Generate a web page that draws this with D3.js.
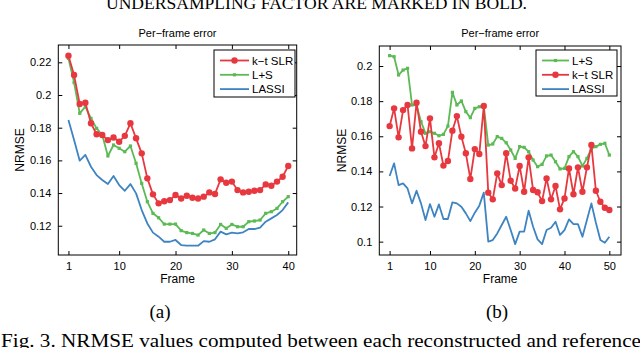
<!DOCTYPE html>
<html>
<head>
<meta charset="utf-8">
<script src="https://cdn.jsdelivr.net/npm/d3@7"></script>
<style>
  body { margin: 0; background: #fff; }
  svg { display: block; }
  .tick text { font-family: "Liberation Sans", Arial, sans-serif; font-size: 11px; fill: #000; }
  .tick line { stroke: #000; }
</style>
</head>
<body>
<div id="chart"></div>
<script>
// values
let framesA = d3.range(1, 41);
let framesB = d3.range(1, 51);

let ktslrA = [0.224, 0.2122, 0.1945, 0.1953, 0.1827, 0.176, 0.1755, 0.1724, 0.174, 0.1714,
  0.175, 0.1827, 0.1735, 0.1643, 0.149, 0.1392, 0.1337, 0.135, 0.1357, 0.1388,
  0.1367, 0.1384, 0.1371, 0.1367, 0.1378, 0.1404, 0.1394, 0.1484, 0.1463, 0.147,
  0.1418, 0.1404, 0.1408, 0.1414, 0.1418, 0.1453, 0.1445, 0.147, 0.15, 0.1566];
let lsA = [0.2224, 0.2076, 0.1888, 0.1929, 0.1857, 0.1796, 0.1755, 0.1627, 0.1694, 0.1674,
  0.1653, 0.1688, 0.1582, 0.1459, 0.1347, 0.1276, 0.1249, 0.121, 0.121, 0.121,
  0.117, 0.1158, 0.1153, 0.1143, 0.1174, 0.1153, 0.1158, 0.1208, 0.1184, 0.1208,
  0.1194, 0.1194, 0.1225, 0.1229, 0.1235, 0.1276, 0.1286, 0.1306, 0.1347, 0.1378];
let lassiA = [0.1847, 0.1724, 0.1598, 0.1633, 0.1561, 0.151, 0.148, 0.1455, 0.1504, 0.1449,
  0.1414, 0.1455, 0.1398, 0.1296, 0.1214, 0.1158, 0.1133, 0.1102, 0.1102, 0.1113,
  0.1082, 0.1078, 0.1078, 0.1078, 0.1106, 0.1102, 0.1117, 0.1164, 0.1147, 0.1158,
  0.1153, 0.116, 0.118, 0.118, 0.1188, 0.1225, 0.1245, 0.1266, 0.1296, 0.1343];

let lsB = [0.2059, 0.2053, 0.1949, 0.1977, 0.1987, 0.1778, 0.1778, 0.1683, 0.1617, 0.1626,
  0.1617, 0.1603, 0.1611, 0.1658, 0.185, 0.1778, 0.1801, 0.174, 0.1706, 0.1759,
  0.1768, 0.1772, 0.155, 0.1556, 0.1598, 0.1588, 0.1563, 0.1522, 0.1474, 0.1541,
  0.1537, 0.1512, 0.1465, 0.1427, 0.144, 0.1488, 0.1493, 0.1455, 0.1414, 0.1417,
  0.1484, 0.1512, 0.1484, 0.1431, 0.1474, 0.1531, 0.1541, 0.1554, 0.156, 0.1493];
let ktslrB = [0.1658, 0.1759, 0.1594, 0.1749, 0.1778, 0.1531, 0.1791, 0.1626, 0.1544, 0.1702,
  0.148, 0.156, 0.1433, 0.1459, 0.1632, 0.1715, 0.1598, 0.1503, 0.1357, 0.1527,
  0.1499, 0.1772, 0.1279, 0.1241, 0.1389, 0.1322, 0.1503, 0.1347, 0.1303, 0.1431,
  0.1284, 0.148, 0.1294, 0.1281, 0.1231, 0.136, 0.1241, 0.1317, 0.1184, 0.1246,
  0.1417, 0.127, 0.1423, 0.1284, 0.1423, 0.155, 0.129, 0.1227, 0.1193, 0.118];
let lassiB = [0.1374, 0.1446, 0.1322, 0.1332, 0.1303, 0.1218, 0.129, 0.1218, 0.1123, 0.1214,
  0.1142, 0.1212, 0.1129, 0.1129, 0.1224, 0.1218, 0.1199, 0.1161, 0.1117, 0.1165,
  0.1205, 0.1279, 0.1, 0.1009, 0.1047, 0.1095, 0.1142, 0.1066, 0.0986, 0.1057,
  0.1057, 0.1176, 0.1085, 0.1013, 0.0986, 0.1066, 0.1079, 0.1113, 0.1038, 0.1066,
  0.1127, 0.11, 0.11, 0.1028, 0.1123, 0.1218, 0.1108, 0.1009, 0.0994, 0.1028];

let xTicksA = [1, 10, 20, 30, 40];
let yTicksA = [0.12, 0.14, 0.16, 0.18, 0.2, 0.22];
let xTicksB = [1, 10, 20, 30, 40, 50];
let yTicksB = [0.1, 0.12, 0.14, 0.16, 0.18, 0.2];

let colors = { ktslr: "#e8383f", ls: "#5cba55", lassi: "#3f84c2" };

let svg = d3.select("#chart").append("svg")
  .attr("width", 640)
  .attr("height", 348);

let serif = '"Liberation Serif", "Times New Roman", serif';
let sans = '"Liberation Sans", Arial, sans-serif';

// table caption, cut at the top edge as in the source page
svg.append("text")
  .attr("x", 106).attr("y", 9)
  .attr("textLength", 421).attr("lengthAdjust", "spacingAndGlyphs")
  .attr("font-family", serif).attr("font-size", 16)
  .text("UNDERSAMPLING FACTOR ARE MARKED IN BOLD.");

function panel(opt) {
  let x = d3.scaleLinear().domain(opt.xDomain).range([opt.left, opt.right]);
  let y = d3.scaleLinear().domain(opt.yDomain).range([opt.bottom, opt.top]);
  let fmt = d => String(+d.toFixed(2));
  let g = svg.append("g");

  g.append("rect")
    .attr("x", opt.left).attr("y", opt.top)
    .attr("width", opt.right - opt.left).attr("height", opt.bottom - opt.top)
    .attr("fill", "none").attr("stroke", "#000").attr("stroke-width", 1);

  g.append("g").attr("transform", `translate(0,${opt.bottom})`)
    .call(d3.axisBottom(x).tickValues(opt.xTicks).tickSizeInner(-4).tickSizeOuter(0).tickPadding(7).tickFormat(fmt))
    .call(a => a.select(".domain").remove());
  g.append("g").attr("transform", `translate(0,${opt.top})`)
    .call(d3.axisTop(x).tickValues(opt.xTicks).tickSizeInner(-4).tickSizeOuter(0).tickFormat(""))
    .call(a => a.select(".domain").remove());
  g.append("g").attr("transform", `translate(${opt.left},0)`)
    .call(d3.axisLeft(y).tickValues(opt.yTicks).tickSizeInner(-4).tickSizeOuter(0).tickPadding(7).tickFormat(fmt))
    .call(a => a.select(".domain").remove());
  g.append("g").attr("transform", `translate(${opt.right},0)`)
    .call(d3.axisRight(y).tickValues(opt.yTicks).tickSizeInner(-4).tickSizeOuter(0).tickFormat(""))
    .call(a => a.select(".domain").remove());

  let cx = (opt.left + opt.right) / 2;
  g.append("text").attr("x", cx).attr("y", 37)
    .attr("text-anchor", "middle").attr("font-family", sans).attr("font-size", 11)
    .text("Per\u2212frame error");
  g.append("text").attr("x", cx).attr("y", 283)
    .attr("text-anchor", "middle").attr("font-family", sans).attr("font-size", 12)
    .text("Frame");
  g.append("text")
    .attr("transform", `translate(${opt.ylabelX},${(opt.top + opt.bottom) / 2}) rotate(-90)`)
    .attr("text-anchor", "middle").attr("font-family", sans).attr("font-size", 12)
    .text("NRMSE");

  let line = d3.line().x(d => x(d[0])).y(d => y(d[1]));
  let seriesMap = {};
  opt.series.forEach(s => { seriesMap[s.key] = s; });

  // draw order: LASSI, L+S, k-t SLR on top
  ["lassi", "ls", "ktslr"].forEach(key => {
    let s = seriesMap[key];
    let pts = opt.frames.map((f, i) => [f, s.values[i]]);
    g.append("path").datum(pts)
      .attr("d", line)
      .attr("fill", "none")
      .attr("stroke", colors[key])
      .attr("stroke-width", 1.8)
      .attr("stroke-linejoin", "round");
    if (key === "ktslr") {
      g.selectAll(null).data(pts).enter().append("circle")
        .attr("cx", d => x(d[0])).attr("cy", d => y(d[1]))
        .attr("r", 3.2).attr("fill", colors[key]);
    } else if (key === "ls") {
      g.selectAll(null).data(pts).enter().append("rect")
        .attr("x", d => x(d[0]) - 1.6).attr("y", d => y(d[1]) - 1.6)
        .attr("width", 3.2).attr("height", 3.2).attr("fill", colors[key]);
    }
  });

  // legend
  let lg = opt.legend;
  g.append("rect")
    .attr("x", lg.x).attr("y", lg.y).attr("width", lg.w).attr("height", lg.h)
    .attr("fill", "#fff").attr("stroke", "#000").attr("stroke-width", 1);
  opt.series.forEach((s, i) => {
    let ly = lg.y + 10.5 + i * 14.3;
    g.append("line")
      .attr("x1", lg.x + 6).attr("x2", lg.x + 6 + lg.lineLen)
      .attr("y1", ly).attr("y2", ly)
      .attr("stroke", colors[s.key]).attr("stroke-width", 1.8);
    let mx = lg.x + 6 + lg.lineLen / 2;
    if (s.key === "ktslr") {
      g.append("circle").attr("cx", mx).attr("cy", ly).attr("r", 3.2).attr("fill", colors[s.key]);
    } else if (s.key === "ls") {
      g.append("rect").attr("x", mx - 1.6).attr("y", ly - 1.6).attr("width", 3.2).attr("height", 3.2)
        .attr("fill", colors[s.key]);
    }
    g.append("text")
      .attr("x", lg.x + 9 + lg.lineLen).attr("y", ly + 4)
      .attr("font-family", sans).attr("font-size", 11.5)
      .text(s.label);
  });

  svg.append("text")
    .attr("x", opt.subX).attr("y", 318)
    .attr("text-anchor", "middle").attr("font-family", serif).attr("font-size", 19)
    .text(opt.sub);
}

panel({
  left: 58.3, right: 296.7, top: 45, bottom: 255,
  xDomain: [-0.8, 41.5], yDomain: [0.1021, 0.2306],
  xTicks: xTicksA, yTicks: yTicksA,
  frames: framesA, ylabelX: 24,
  series: [
    { key: "ktslr", label: "k\u2212t SLR", values: ktslrA },
    { key: "ls", label: "L+S", values: lsA },
    { key: "lassi", label: "LASSI", values: lassiA }
  ],
  legend: { x: 214, y: 50, w: 81, h: 47, lineLen: 29 },
  sub: "(a)", subX: 160
});

panel({
  left: 379.3, right: 621, top: 46, bottom: 255,
  xDomain: [-1.3, 52.6], yDomain: [0.0924, 0.2114],
  xTicks: xTicksB, yTicks: yTicksB,
  frames: framesB, ylabelX: 346,
  series: [
    { key: "ls", label: "L+S", values: lsB },
    { key: "ktslr", label: "k\u2212t SLR", values: ktslrB },
    { key: "lassi", label: "LASSI", values: lassiB }
  ],
  legend: { x: 536, y: 50, w: 81, h: 46, lineLen: 27 },
  sub: "(b)", subX: 497
});

// figure caption, cut at the bottom edge as in the source page
svg.append("text")
  .attr("x", 1).attr("y", 347)
  .attr("textLength", 640).attr("lengthAdjust", "spacingAndGlyphs")
  .attr("font-family", serif).attr("font-size", 18.5)
  .text("Fig. 3.  NRMSE values computed between each reconstructed and reference");
</script>
</body>
</html>
